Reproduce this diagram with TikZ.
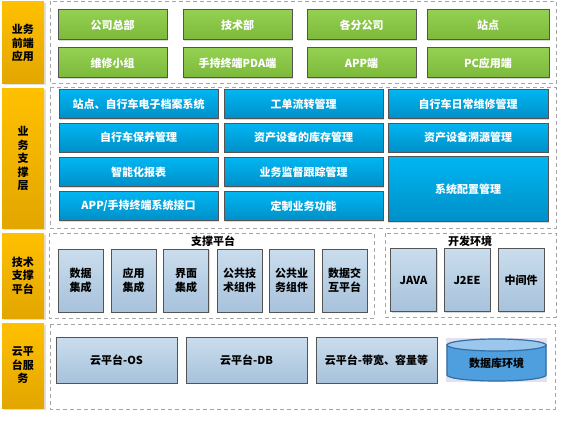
\documentclass[tikz,border=0pt]{standalone}
\usepackage{fontspec}
\setmainfont{Noto Sans CJK SC}
\usepackage{tikz}
\usetikzlibrary{shadows}
\definecolor{lyellow}{HTML}{FFC000}
\definecolor{dyellow}{HTML}{E2A600}
\definecolor{lgreen}{HTML}{94D152}
\definecolor{dgreen}{HTML}{7CB83A}
\definecolor{lblue}{HTML}{00B6F2}
\definecolor{dblue}{HTML}{008FC8}
\definecolor{lgrey}{HTML}{CADDED}
\definecolor{dgrey}{HTML}{A7C2DB}
\definecolor{bborder}{HTML}{545454}
\definecolor{dashgray}{HTML}{A6A6A6}
\definecolor{cylbody}{HTML}{4F9EDE}
\definecolor{cyltop}{HTML}{9CC7EC}
\definecolor{cylline}{HTML}{2E6FA7}
\definecolor{lavender}{HTML}{E4E0EE}
\tikzstyle{rectblock} = [rectangle, draw=bborder, line width=1pt, align=center, inner sep=1pt, font=\bfseries\fontsize{11}{14}\selectfont, drop shadow={shadow xshift=1.2pt, shadow yshift=-1.2pt, opacity=0.3}]
\tikzstyle{frontblock} = [rectblock, top color=lgreen, bottom color=dgreen, text=white, minimum width=109pt, minimum height=30pt]
\tikzstyle{supblock} = [rectblock, top color=lblue, bottom color=dblue, text=white, minimum width=159pt, minimum height=29pt]
\tikzstyle{techblock} = [rectblock, top color=lgrey, bottom color=dgrey, text=black, minimum width=45pt, minimum height=63pt]
\tikzstyle{cloudblock} = [techblock, minimum width=121pt, minimum height=46pt]
\tikzstyle{layerbar} = [rectangle, top color=lyellow, bottom color=dyellow, minimum width=42pt, inner sep=0pt, align=center, font=\bfseries\fontsize{11}{13.5}\selectfont, drop shadow={shadow xshift=1.5pt, shadow yshift=-1.5pt, opacity=0.25}]
\tikzstyle{boundingbox} = [line width=1pt, dash pattern=on 4pt off 3pt, draw=dashgray]
\tikzstyle{grouptext} = [font=\bfseries\fontsize{11}{12}\selectfont]

\begin{document}
\begin{tikzpicture}[x=1pt, y=-1pt]
    \useasboundingbox (0,0) rectangle (561,425);
    % layer titles
    \node[layerbar, minimum height=82pt] at (23, 43) (front) {业务\\前端\\应用};
    \node[layerbar, minimum height=139pt] at (23, 158.5) (support) {业\\务\\支\\撑\\层};
    \node[layerbar, minimum height=85pt] at (23, 275.5) (tech) {技术\\支撑\\平台};
    \node[layerbar, minimum height=85pt] at (23, 365.5) (cloud) {云平\\台服\\务};
    % front end
    \draw[boundingbox] (50, 1.5) rectangle (556, 83.5);
    \node[frontblock] at (112.5, 25) (hq) {公司总部};
    \node[frontblock] at (237.5, 25) (techdept) {技术部};
    \node[frontblock] at (361.5, 25) (branch) {各分公司};
    \node[frontblock, minimum width=122pt] at (488, 25) (station) {站点};
    \node[frontblock] at (112.5, 63) (repair) {维修小组};
    \node[frontblock] at (237.5, 63) (pda) {手持终端PDA端};
    \node[frontblock] at (361.5, 63) (app) {APP端};
    \node[frontblock, minimum width=122pt] at (488, 63) (pc) {PC应用端};
    % business support
    \draw[boundingbox] (50, 88) rectangle (556, 228);
    \node[supblock] at (138.5, 104) (archive) {站点、自行车电子档案系统};
    \node[supblock] at (303.5, 104) (workorder) {工单流转管理};
    \node[supblock, minimum width=160pt] at (468, 104) (daily) {自行车日常维修管理};
    \node[supblock] at (138.5, 137.5) (maint) {自行车保养管理};
    \node[supblock] at (303.5, 137.5) (stock) {资产设备的库存管理};
    \node[supblock, minimum width=160pt] at (468, 137.5) (source) {资产设备溯源管理};
    \node[supblock] at (138.5, 172) (report) {智能化报表};
    \node[supblock] at (303.5, 172) (monitor) {业务监督跟踪管理};
    \node[supblock, minimum width=160pt, minimum height=65pt] at (468, 189) (config) {系统配置管理};
    \node[supblock] at (138.5, 206) (iface) {APP/手持终端系统接口};
    \node[supblock] at (303.5, 206) (custom) {定制业务功能};
    % tech support
    \draw[boundingbox] (49, 233) rectangle (374, 318);
    \node[grouptext] at (213, 241) (platform) {支撑平台};
    \node[techblock] at (80.5, 280.5) (dataint) {数据\\集成};
    \node[techblock] at (133.5, 280.5) (appint) {应用\\集成};
    \node[techblock] at (186, 280.5) (uiint) {界面\\集成};
    \node[techblock] at (239.5, 280.5) (techcomp) {公共技\\术组件};
    \node[techblock] at (291.5, 280.5) (bizcomp) {公共业\\务组件};
    \node[techblock] at (344.5, 280.5) (exchange) {数据交\\互平台};
    \draw[boundingbox] (385, 233) rectangle (556, 317);
    \node[grouptext] at (470, 241) (devenv) {开发环境};
    \node[techblock, minimum width=46pt] at (413.5, 280) (java) {JAVA};
    \node[techblock, minimum width=46pt] at (467, 280) (jee) {J2EE};
    \node[techblock, minimum width=46pt] at (521, 280) (middle) {中间件};
    % cloud services
    \draw[boundingbox] (50, 324) rectangle (555, 409);
    \node[cloudblock] at (116.5, 360) (os) {云平台-OS};
    \node[cloudblock] at (246.5, 360) (db) {云平台-DB};
    \node[cloudblock] at (376.5, 360) (bandwidth) {云平台-带宽、容量等};
    \fill[lavender] (446, 338) rectangle (547, 382);
    \draw[cylline, fill=cylbody, line width=1.2pt] (447, 345) -- (447, 375) arc[start angle=180, end angle=360, x radius=49.5pt, y radius=6pt] -- (546, 345) -- cycle;
    \draw[cylline, fill=cyltop, line width=1.2pt] (496.5, 345) ellipse [x radius=49.5pt, y radius=6pt];
    \node[grouptext] at (496.5, 363) (dbenv) {数据库环境};
\end{tikzpicture}
\end{document}
